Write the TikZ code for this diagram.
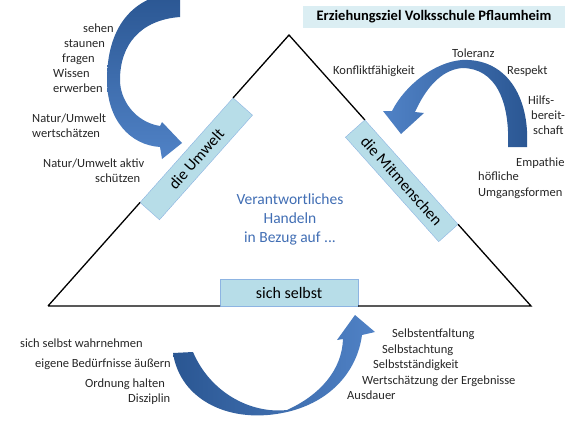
\documentclass[tikz,border=0pt]{standalone}
\usepackage{fontspec}
\setmainfont{Carlito}
\usetikzlibrary{calc, positioning}
\definecolor{boxfill}{RGB}{183,221,232}
\definecolor{boxline}{RGB}{141,180,226}
\definecolor{titlefill}{RGB}{219,238,243}
\definecolor{adark}{RGB}{42,86,146}
\definecolor{alight}{RGB}{80,130,198}
\definecolor{txtblue}{RGB}{65,110,180}

\begin{document}
\begin{tikzpicture}[x=1pt, y=-1pt,
  side/.style={draw=boxline, fill=boxfill, sloped, minimum width=140pt, minimum height=26pt, inner sep=0pt, outer sep=0pt, font=\fontsize{16}{19}\selectfont},
  lbl/.style={inner sep=0pt, text=black!85, font=\fontsize{12.5}{15}\selectfont}]
\clip (0,0) rectangle (575,431);

\coordinate (A) at (48,306);
\coordinate (B) at (289,35);
\coordinate (C) at (531,306);
\path (A) -- (B) node[side, pos=.575, anchor=north] (um) {die Umwelt};
\path (B) -- (C) node[side, pos=.506, anchor=north] (mm) {die Mitmenschen};
\path (A) -- (C) node[side, pos=.499, anchor=south, minimum width=138pt, minimum height=27pt] (ss) {sich selbst};
\draw[line width=1.3pt] (A) -- (um.north west) (um.north east) -- (B) -- (mm.north west) (mm.north east) -- (C) -- (ss.south east) (ss.south west) -- (A);

\node[fill=titlefill, minimum width=262pt, minimum height=22pt, inner sep=0pt, font=\bfseries\fontsize{14.5}{16}\selectfont] (tt) at (434,17) {Erziehungsziel Volksschule Pflaumheim};
\node[align=center, text=txtblue, font=\fontsize{15.5}{19}\selectfont] (vh) at (290,219) {Verantwortliches\\Handeln\\in Bezug auf ...};

\shade[top color=adark, bottom color=alight] (180,17) -- (180,-8) .. controls (130,-5) and (107,30) .. (107,80) .. controls (107,120) and (130,145) .. (160,147) -- (162,159) -- (182,143) -- (162,122) -- (160,126) .. controls (135,122) and (120,100) .. (120,80) .. controls (120,45) and (140,20) .. (180,17) -- cycle;
\shade[left color=alight, right color=adark] (508,147) -- (527,147) .. controls (530,95) and (505,58) .. (462,60) .. controls (435,62) and (405,85) .. (392,111) -- (383,111) -- (401,134) -- (424,113) -- (415,112) .. controls (425,90) and (440,70) .. (462,68) .. controls (495,68) and (510,100) .. (508,147) -- cycle;
\shade[left color=adark, right color=alight] (193,352) -- (173,353) .. controls (180,400) and (230,425) .. (287,412) .. controls (330,402) and (357,372) .. (362,335) -- (375,332) -- (355,315) -- (337,340) -- (343,339) .. controls (342,370) and (320,395) .. (287,410) .. controls (250,414) and (210,392) .. (193,352) -- cycle;

\node[lbl, anchor=base west] (l1) at (83,32) {sehen};
\node[lbl, anchor=base west] (l2) at (64,47) {staunen};
\node[lbl, anchor=base west] (l3) at (62,62) {fragen};
\node[lbl, anchor=base west] (l4) at (53,77) {Wissen};
\node[lbl, anchor=base west] (l5) at (53,92) {erwerben};
\node[lbl, anchor=base west] (l6) at (32,122) {Natur/Umwelt};
\node[lbl, anchor=base west] (l7) at (32,137) {wertschätzen};
\node[lbl, anchor=base west] (l8) at (43,167) {Natur/Umwelt aktiv};
\node[lbl, anchor=base west] (l9) at (95,182) {schützen};

\node[lbl, anchor=base west] (r1) at (452,57) {Toleranz};
\node[lbl, anchor=base west] (r2) at (333,74) {Konfliktfähigkeit};
\node[lbl, anchor=base west] (r3) at (507,74) {Respekt};
\node[lbl, anchor=base west] (r4) at (528,104) {Hilfs-};
\node[lbl, anchor=base west] (r5) at (531,119) {bereit-};
\node[lbl, anchor=base west] (r6) at (533,134) {schaft};
\node[lbl, anchor=base west] (r7) at (516,166) {Empathie};
\node[lbl, anchor=base west] (r8) at (478,180) {höfliche};
\node[lbl, anchor=base west] (r9) at (478,196) {Umgangsformen};

\node[lbl, anchor=base west] (b1) at (20,347) {sich selbst wahrnehmen};
\node[lbl, anchor=base west] (b2) at (35,367) {eigene Bedürfnisse äußern};
\node[lbl, anchor=base west] (b3) at (85,387) {Ordnung halten};
\node[lbl, anchor=base west] (b4) at (128,402) {Disziplin};

\node[lbl, anchor=base west] (s1) at (392,337) {Selbstentfaltung};
\node[lbl, anchor=base west] (s2) at (382,353) {Selbstachtung};
\node[lbl, anchor=base west] (s3) at (373,368) {Selbstständigkeit};
\node[lbl, anchor=base west] (s4) at (362,384) {Wertschätzung der Ergebnisse};
\node[lbl, anchor=base west] (s5) at (347,399) {Ausdauer};
\end{tikzpicture}
\end{document}
